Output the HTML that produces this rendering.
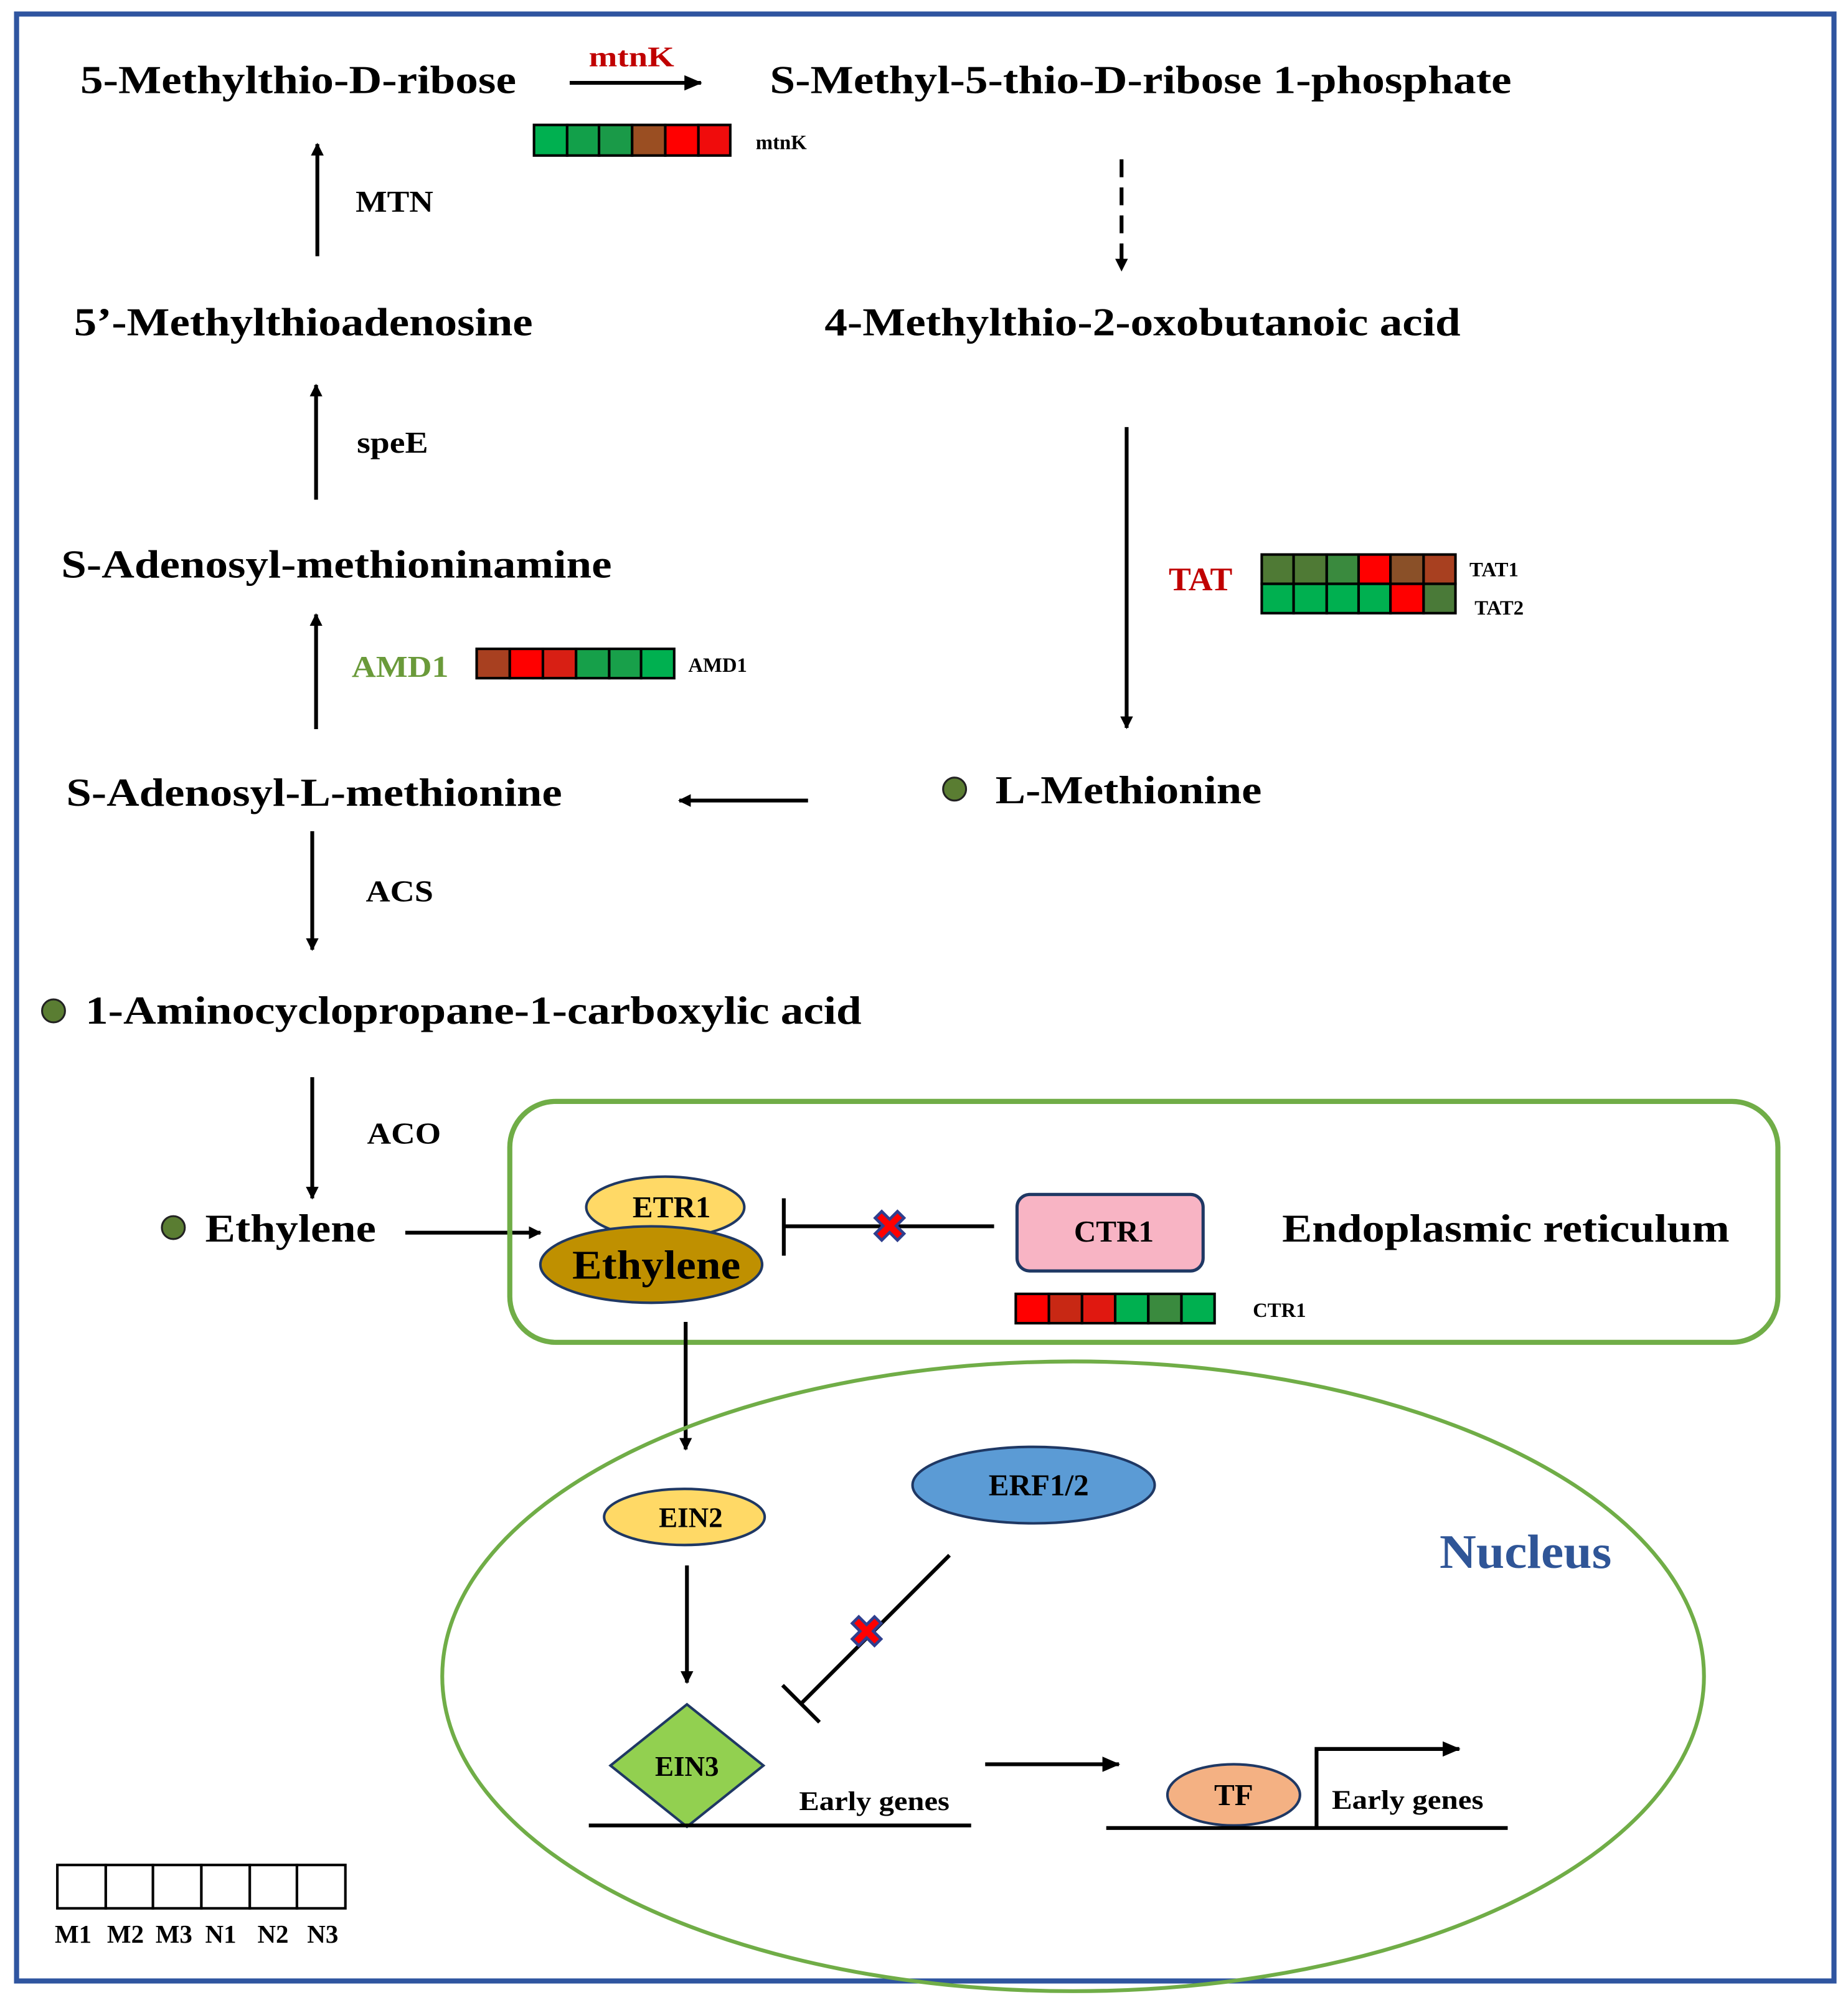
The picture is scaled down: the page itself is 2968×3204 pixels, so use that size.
<!DOCTYPE html>
<html><head><meta charset="utf-8"><style>
html,body{margin:0;padding:0;background:#fff;}
svg{display:block;}
text{font-family:"Liberation Serif",serif;font-weight:bold;fill:#000;}
</style></head><body>
<svg width="2968" height="3204" viewBox="0 0 1450 1565" preserveAspectRatio="none" xmlns="http://www.w3.org/2000/svg">
<defs>
<marker id="ah" markerWidth="10" markerHeight="10" refX="9" refY="5" orient="auto" markerUnits="userSpaceOnUse"><path d="M0,0 L10,5 L0,10 z" fill="#000"/></marker>
<marker id="ah2" markerWidth="14" markerHeight="12" refX="13" refY="6" orient="auto" markerUnits="userSpaceOnUse"><path d="M0,0 L14,6 L0,12 z" fill="#000"/></marker>
</defs>
<rect x="13" y="11" width="1426" height="1543" fill="none" stroke="#2f55a0" stroke-width="4"/>

<g font-size="31" lengthAdjust="spacingAndGlyphs">
<text x="63" y="73" textLength="342" lengthAdjust="spacingAndGlyphs">5-Methylthio-D-ribose</text>
<text x="604" y="73" textLength="582" lengthAdjust="spacingAndGlyphs">S-Methyl-5-thio-D-ribose 1-phosphate</text>
<text x="647" y="263" textLength="499" lengthAdjust="spacingAndGlyphs">4-Methylthio-2-oxobutanoic acid</text>
<text x="58" y="263" textLength="360" lengthAdjust="spacingAndGlyphs">5’-Methylthioadenosine</text>
<text x="48" y="453" textLength="432" lengthAdjust="spacingAndGlyphs">S-Adenosyl-methioninamine</text>
<text x="52" y="632" textLength="389" lengthAdjust="spacingAndGlyphs">S-Adenosyl-L-methionine</text>
<text x="781" y="630" textLength="209" lengthAdjust="spacingAndGlyphs">L-Methionine</text>
<text x="67" y="803" textLength="609" lengthAdjust="spacingAndGlyphs">1-Aminocyclopropane-1-carboxylic acid</text>
<text x="161" y="974" textLength="134" lengthAdjust="spacingAndGlyphs">Ethylene</text>
<text x="1006" y="974" textLength="351" lengthAdjust="spacingAndGlyphs">Endoplasmic reticulum</text>
</g>

<text x="462" y="52" font-size="22" style="fill:#c00000" textLength="67" lengthAdjust="spacingAndGlyphs">mtnK</text>
<line x1="447" y1="65" x2="550" y2="65" stroke="#000" stroke-width="3" marker-end="url(#ah2)"/>
<g stroke="#000" stroke-width="2">
<rect x="419" y="98" width="26" height="24" fill="#00b050"/><rect x="445" y="98" width="25" height="24" fill="#12a04a"/><rect x="470" y="98" width="26" height="24" fill="#1a9a48"/><rect x="496" y="98" width="26" height="24" fill="#9a4e22"/><rect x="522" y="98" width="26" height="24" fill="#ff0000"/><rect x="548" y="98" width="25" height="24" fill="#f00c0c"/>
</g>
<text x="593" y="117" font-size="16">mtnK</text>

<line x1="880" y1="125" x2="880" y2="212" stroke="#000" stroke-width="3" stroke-dasharray="14,8" marker-end="url(#ah)"/>
<line x1="884" y1="335" x2="884" y2="571" stroke="#000" stroke-width="3" marker-end="url(#ah)"/>
<text x="917" y="463" font-size="26" style="fill:#c00000" textLength="50" lengthAdjust="spacingAndGlyphs">TAT</text>
<g stroke="#000" stroke-width="2">
<rect x="990" y="435" width="25" height="23" fill="#4f7a35"/><rect x="1015" y="435" width="26" height="23" fill="#4f7a35"/><rect x="1041" y="435" width="25" height="23" fill="#3a8a3e"/><rect x="1066" y="435" width="25" height="23" fill="#ff0000"/><rect x="1091" y="435" width="26" height="23" fill="#8a5028"/><rect x="1117" y="435" width="25" height="23" fill="#a84020"/>
<rect x="990" y="458" width="25" height="23" fill="#00b050"/><rect x="1015" y="458" width="26" height="23" fill="#00b050"/><rect x="1041" y="458" width="25" height="23" fill="#00b050"/><rect x="1066" y="458" width="25" height="23" fill="#00b050"/><rect x="1091" y="458" width="26" height="23" fill="#ff0000"/><rect x="1117" y="458" width="25" height="23" fill="#4a7a38"/>
</g>
<text x="1153" y="452" font-size="16">TAT1</text>
<text x="1157" y="482" font-size="16">TAT2</text>

<circle cx="749" cy="619" r="9" fill="#5a7d32" stroke="#222" stroke-width="1.5"/>
<line x1="634" y1="628" x2="533" y2="628" stroke="#000" stroke-width="3" marker-end="url(#ah)"/>

<line x1="249" y1="201" x2="249" y2="113" stroke="#000" stroke-width="3" marker-end="url(#ah)"/>
<text x="279" y="166" font-size="24" textLength="61" lengthAdjust="spacingAndGlyphs">MTN</text>
<line x1="248" y1="392" x2="248" y2="302" stroke="#000" stroke-width="3" marker-end="url(#ah)"/>
<text x="280" y="355" font-size="24" textLength="56" lengthAdjust="spacingAndGlyphs">speE</text>
<line x1="248" y1="572" x2="248" y2="482" stroke="#000" stroke-width="3" marker-end="url(#ah)"/>
<text x="276" y="531" font-size="24" style="fill:#6a9a3a" textLength="76" lengthAdjust="spacingAndGlyphs">AMD1</text>
<g stroke="#000" stroke-width="2">
<rect x="374" y="509" width="26" height="23" fill="#a84020"/><rect x="400" y="509" width="26" height="23" fill="#ff0000"/><rect x="426" y="509" width="26" height="23" fill="#d81f14"/><rect x="452" y="509" width="26" height="23" fill="#16a04a"/><rect x="478" y="509" width="25" height="23" fill="#18a04a"/><rect x="503" y="509" width="26" height="23" fill="#00b050"/>
</g>
<text x="540" y="527" font-size="16">AMD1</text>

<line x1="245" y1="652" x2="245" y2="745" stroke="#000" stroke-width="3" marker-end="url(#ah)"/>
<text x="287" y="707" font-size="24" textLength="53" lengthAdjust="spacingAndGlyphs">ACS</text>
<circle cx="42" cy="793" r="9" fill="#5a7d32" stroke="#222" stroke-width="1.5"/>
<line x1="245" y1="845" x2="245" y2="940" stroke="#000" stroke-width="3" marker-end="url(#ah)"/>
<text x="288" y="897" font-size="24" textLength="58" lengthAdjust="spacingAndGlyphs">ACO</text>
<circle cx="136" cy="963" r="9" fill="#5a7d32" stroke="#222" stroke-width="1.5"/>
<line x1="318" y1="967" x2="424" y2="967" stroke="#000" stroke-width="3" marker-end="url(#ah)"/>

<rect x="400" y="864" width="995" height="189" rx="36" fill="none" stroke="#70ad47" stroke-width="4"/>
<ellipse cx="522" cy="947" rx="62" ry="24" fill="#ffd966" stroke="#1f3864" stroke-width="2"/>
<text x="527" y="955" font-size="24" text-anchor="middle">ETR1</text>
<ellipse cx="511" cy="992" rx="87" ry="30" fill="#bf9000" stroke="#1f3864" stroke-width="2"/>
<text x="515" y="1003" font-size="32" text-anchor="middle" textLength="132" lengthAdjust="spacingAndGlyphs">Ethylene</text>
<line x1="615" y1="940" x2="615" y2="985" stroke="#000" stroke-width="3"/>
<line x1="615" y1="962" x2="780" y2="962" stroke="#000" stroke-width="3"/>
<text x="698" y="974" font-size="34" text-anchor="middle" style="fill:#ff0000;stroke:#2f3f8f;stroke-width:1.2">✖</text>
<rect x="798" y="937" width="146" height="60" rx="10" fill="#f8b4c4" stroke="#1f3864" stroke-width="2.5"/>
<text x="874" y="974" font-size="24" text-anchor="middle">CTR1</text>
<g stroke="#000" stroke-width="2">
<rect x="797" y="1015" width="26" height="23" fill="#ff0000"/><rect x="823" y="1015" width="26" height="23" fill="#c82814"/><rect x="849" y="1015" width="26" height="23" fill="#e01810"/><rect x="875" y="1015" width="26" height="23" fill="#00b050"/><rect x="901" y="1015" width="26" height="23" fill="#3a8a3e"/><rect x="927" y="1015" width="26" height="23" fill="#00b050"/>
</g>
<text x="983" y="1033" font-size="16">CTR1</text>

<line x1="538" y1="1037" x2="538" y2="1137" stroke="#000" stroke-width="3" marker-end="url(#ah)"/>
<ellipse cx="842" cy="1315" rx="495" ry="247" fill="none" stroke="#70ad47" stroke-width="3"/>
<ellipse cx="537" cy="1190" rx="63" ry="22" fill="#ffd966" stroke="#1f3864" stroke-width="2"/>
<text x="542" y="1198" font-size="22" text-anchor="middle">EIN2</text>
<ellipse cx="811" cy="1165" rx="95" ry="30" fill="#5b9bd5" stroke="#1f3864" stroke-width="2"/>
<text x="815" y="1173" font-size="24" text-anchor="middle">ERF1/2</text>
<text x="1197" y="1230" font-size="38" text-anchor="middle" style="fill:#2f5597" textLength="135" lengthAdjust="spacingAndGlyphs">Nucleus</text>
<line x1="539" y1="1228" x2="539" y2="1320" stroke="#000" stroke-width="3" marker-end="url(#ah)"/>
<line x1="745" y1="1220" x2="628" y2="1337" stroke="#000" stroke-width="3"/>
<line x1="614" y1="1322" x2="643" y2="1351" stroke="#000" stroke-width="3"/>
<text x="680" y="1292" font-size="34" text-anchor="middle" style="fill:#ff0000;stroke:#2f3f8f;stroke-width:1.2">✖</text>
<polygon points="539,1337 599,1385 539,1433 479,1385" fill="#92d050" stroke="#1f3864" stroke-width="2"/>
<text x="539" y="1393" font-size="22" text-anchor="middle">EIN3</text>
<line x1="462" y1="1432" x2="762" y2="1432" stroke="#000" stroke-width="3"/>
<text x="627" y="1420" font-size="21" textLength="118" lengthAdjust="spacingAndGlyphs">Early genes</text>
<line x1="773" y1="1384" x2="878" y2="1384" stroke="#000" stroke-width="3" marker-end="url(#ah2)"/>
<ellipse cx="968" cy="1408" rx="52" ry="24" fill="#f4b183" stroke="#1f3864" stroke-width="2"/>
<text x="968" y="1416" font-size="24" text-anchor="middle">TF</text>
<line x1="868" y1="1434" x2="1183" y2="1434" stroke="#000" stroke-width="3"/>
<polyline points="1033,1434 1033,1372 1145,1372" fill="none" stroke="#000" stroke-width="3" marker-end="url(#ah2)"/>
<text x="1045" y="1419" font-size="21" textLength="119" lengthAdjust="spacingAndGlyphs">Early genes</text>

<g stroke="#000" stroke-width="2" fill="#fff">
<rect x="45" y="1463" width="38" height="34"/><rect x="83" y="1463" width="37" height="34"/><rect x="120" y="1463" width="38" height="34"/><rect x="158" y="1463" width="38" height="34"/><rect x="196" y="1463" width="37" height="34"/><rect x="233" y="1463" width="38" height="34"/>
</g>
<g font-size="20">
<text x="43" y="1524">M1</text><text x="84" y="1524">M2</text><text x="122" y="1524">M3</text><text x="161" y="1524">N1</text><text x="202" y="1524">N2</text><text x="241" y="1524">N3</text>
</g>
</svg>
</body></html>
